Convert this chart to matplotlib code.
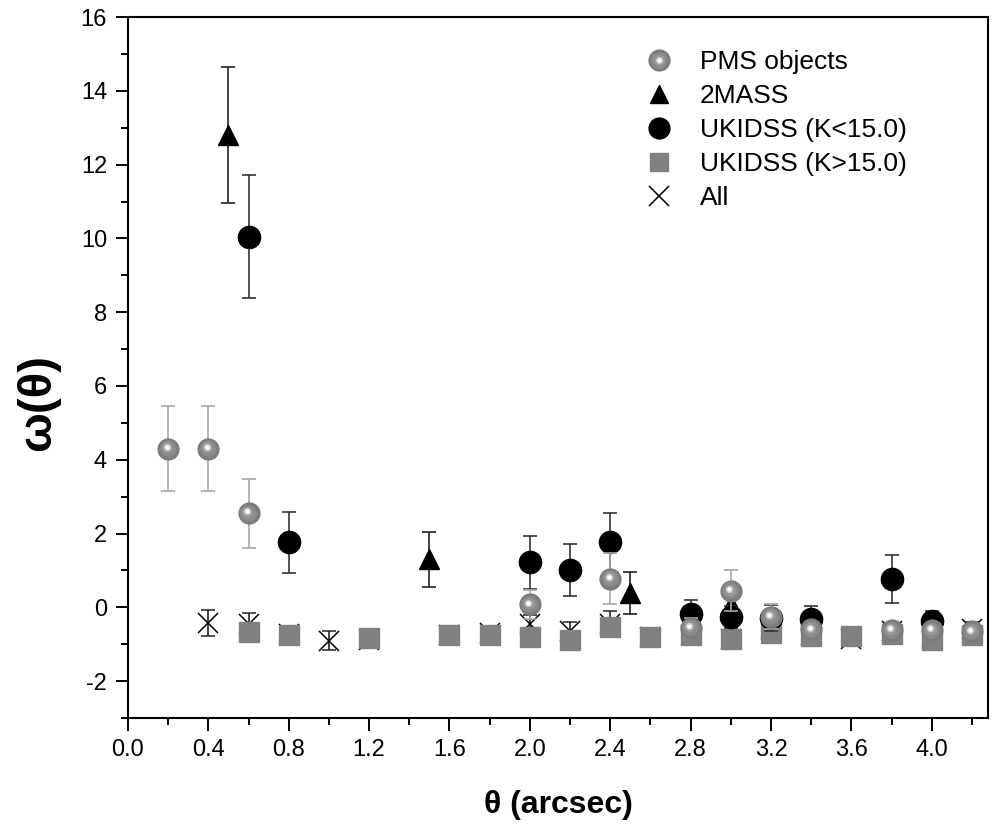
import matplotlib
matplotlib.use("Agg")
from matplotlib import pyplot as plt
from matplotlib import transforms
from matplotlib.lines import Line2D
from matplotlib.ticker import MultipleLocator
import numpy as np

plt.rcParams['font.family'] = ['Liberation Sans', 'DejaVu Sans']
plt.rcParams['axes.unicode_minus'] = False

# PMS objects
pms_x = [0.2, 0.4, 0.6, 2.0, 2.4, 2.8, 3.0, 3.2, 3.4, 3.8, 4.0, 4.2]
pms_y = [4.3, 4.3, 2.55, 0.08, 0.78, -0.55, 0.45, -0.25, -0.6, -0.62, -0.62, -0.65]
pms_err = [1.15, 1.15, 0.93, 0.4, 0.68, 0.25, 0.55, 0.35, 0.2, 0.2, 0.2, 0.2]

# 2MASS
tm_x = [0.5, 1.5, 2.5, 3.0]
tm_y = [12.8, 1.3, 0.38, 0.05]
tm_err = [1.85, 0.75, 0.57, 0.2]

# UKIDSS (K<15.0)
uk1_x = [0.6, 0.8, 2.0, 2.2, 2.4, 2.8, 3.0, 3.2, 3.4, 3.8, 4.0]
uk1_y = [10.05, 1.76, 1.22, 1.02, 1.77, -0.18, -0.27, -0.3, -0.32, 0.76, -0.38]
uk1_err = [1.66, 0.83, 0.72, 0.7, 0.8, 0.38, 0.3, 0.35, 0.35, 0.65, 0.28]

# UKIDSS (K>15.0)
uk2_x = [0.6, 0.8, 1.2, 1.6, 1.8, 2.0, 2.2, 2.4, 2.6, 2.8, 3.0, 3.2, 3.4, 3.6, 3.8, 4.0, 4.2]
uk2_y = [-0.68, -0.76, -0.84, -0.76, -0.76, -0.81, -0.89, -0.54, -0.81, -0.75, -0.87,
         -0.7, -0.78, -0.78, -0.72, -0.89, -0.75]
uk2_err = [0.1, 0.12, 0.1, 0.1, 0.12, 0.1, 0.1, 0.12, 0.1, 0.1, 0.12, 0.1, 0.1, 0.1, 0.1, 0.1, 0.1]

# All
all_x = [0.4, 0.6, 0.8, 1.0, 1.2, 1.6, 1.8, 2.0, 2.2, 2.4, 2.6, 2.8, 3.0, 3.2, 3.4, 3.6, 3.8, 4.0, 4.2]
all_y = [-0.43, -0.45, -0.72, -0.9, -0.88, -0.75, -0.7, -0.45, -0.65, -0.45, -0.8, -0.75,
         -0.85, -0.6, -0.75, -0.85, -0.65, -0.8, -0.6]
all_err = [0.36, 0.3, 0.15, 0.25, 0.2, 0.15, 0.2, 0.25, 0.25, 0.35, 0.15, 0.2, 0.15,
           0.25, 0.2, 0.15, 0.2, 0.15, 0.2]

fig = plt.figure(figsize=(9.95, 8.27), dpi=100)
ax = fig.add_axes([0.1286, 0.1318, 0.8644, 0.8476])

ebar = dict(linestyle='none', capsize=5, elinewidth=1.2, capthick=1.2)

# All (X markers) drawn first
ax.errorbar(all_x, all_y, yerr=all_err, fmt='x', color='black', ms=15, mew=1.1,
            ecolor='#222222', zorder=2, **ebar)
# UKIDSS K>15 squares
ax.errorbar(uk2_x, uk2_y, yerr=uk2_err, fmt='s', color='#808080', ms=15, mec='#808080',
            ecolor='#222222', zorder=3, **ebar)
# 2MASS triangles
ax.errorbar(tm_x, tm_y, yerr=tm_err, fmt='^', color='black', ms=15,
            ecolor='#222222', zorder=4, **ebar)
# UKIDSS K<15 circles
ax.errorbar(uk1_x, uk1_y, yerr=uk1_err, fmt='o', color='black', ms=16,
            ecolor='#333333', zorder=5, **ebar)
# PMS objects: gray spheres
ax.errorbar(pms_x, pms_y, yerr=pms_err, fmt='none', ecolor='#a8a8a8', zorder=6, **ebar)

# sphere layers (size, colour, dx, dy in pixels)
layers = [(16, '#7c7c7c', 0, 0), (12, '#8a8a8a', -0.6, 0.6), (8, '#9a9a9a', -1.2, 1.2),
          (5, '#c8d8c8', -1.6, 1.8), (3, '#f4fff4', -1.6, 1.8)]
for size, col, dx, dy in layers:
    tr = transforms.offset_copy(ax.transData, fig=fig, x=dx, y=dy, units='dots')
    ax.plot(pms_x, pms_y, 'o', ms=size, color=col, mew=0, transform=tr, zorder=7)

ax.set_xlim(0, 4.28)
ax.set_ylim(-3, 16)
ax.xaxis.set_major_locator(MultipleLocator(0.4))
ax.xaxis.set_minor_locator(MultipleLocator(0.2))
ax.yaxis.set_major_locator(MultipleLocator(2))
ax.yaxis.set_minor_locator(MultipleLocator(1))
ax.xaxis.set_major_formatter(plt.FuncFormatter(lambda v, p: f'{v:.1f}'))
ax.tick_params(which='both', direction='out', top=False, right=False, width=1.4,
               labelsize=17, pad=6)
ax.tick_params(which='major', length=9)
ax.tick_params(which='minor', length=5)
for sp in ax.spines.values():
    sp.set_linewidth(1.5)

ax.set_xlabel('θ (arcsec)', fontsize=23, fontweight='bold')
ax.xaxis.set_label_coords(0.5, -0.103)
ax.set_ylabel('ω(θ)', fontsize=34, fontweight='bold')
ax.yaxis.set_label_coords(-0.079, 0.45)

# legend
h_pms = tuple(Line2D([], [], marker='o', ls='none', ms=s, color=c, mew=0)
              for s, c, dx, dy in layers)
h_tm = Line2D([], [], marker='^', ls='none', ms=13, color='black')
h_uk1 = Line2D([], [], marker='o', ls='none', ms=15, color='black')
h_uk2 = Line2D([], [], marker='s', ls='none', ms=13, color='#808080')
h_all = Line2D([], [], marker='x', ls='none', ms=14, mew=1.1, color='black')
leg = fig.legend([h_pms, h_tm, h_uk1, h_uk2, h_all],
                 ['PMS objects', '2MASS', 'UKIDSS (K<15.0)', 'UKIDSS (K>15.0)', 'All'],
                 loc='upper left', bbox_to_anchor=(0.649, 0.939), frameon=False,
                 fontsize=19, handlelength=1.0, handletextpad=1.06, borderpad=0,
                 labelspacing=0.375, borderaxespad=0)

fig.savefig('out.png', dpi=100)
